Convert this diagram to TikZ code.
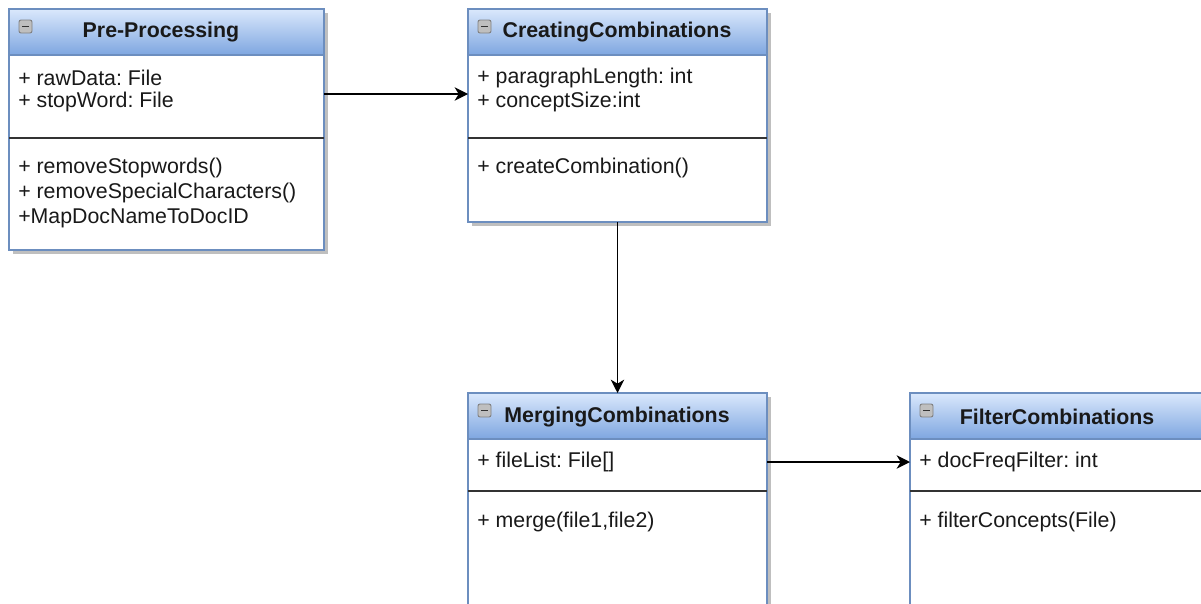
\documentclass[tikz,border=0pt]{standalone}
\usepackage{fontspec}
\setmainfont{Liberation Sans}
\usetikzlibrary{shadows,arrows.meta}
\frenchspacing
\definecolor{hdrtop}{HTML}{DAE8FC}
\definecolor{hdrbot}{HTML}{7EA6E0}
\definecolor{boxline}{HTML}{6C8EBF}
\definecolor{divline}{HTML}{333333}
\tikzset{
  umlbox/.style={draw=boxline, line width=1.1pt, fill=white, anchor=north west,
    inner sep=0pt, outer sep=0pt,
    drop shadow={shadow xshift=3pt, shadow yshift=-3pt, fill=black!25, opacity=1}},
  hdr/.style={top color=hdrtop, bottom color=hdrbot, draw=boxline, line width=1.1pt},
  divider/.style={draw=divline, line width=1.4pt},
  txt/.style={anchor=west, inner sep=0pt, font=\fontsize{16pt}{18pt}\selectfont\frenchspacing, text=black!90},
  ttl/.style={inner sep=0pt, font=\fontsize{16pt}{18pt}\selectfont\bfseries, text=black!90},
  icon/.style={draw=black!50, fill=black!25, line width=0.7pt, rounded corners=1.5pt},
  minus/.style={draw=black!80, line width=1.1pt},
  arr/.style={draw=black, line width=1.3pt, -{Stealth[length=10pt, width=10pt, inset=3pt]}}
}
\begin{document}
\begin{tikzpicture}[x=0.75pt, y=-0.75pt]
\useasboundingbox (0,0) rectangle (1201,603);
\clip (0,0) rectangle (1201,603);
\fill[white] (0,0) rectangle (1201,603);

% ---- Pre-Processing
\node[umlbox, minimum width=236.25pt, minimum height=180.75pt] (pre) at (9,9) {};
\shade[hdr] (pre.north west) rectangle ([yshift=-34.5pt]pre.north east);
\draw[divider] ([yshift=-96.75pt]pre.north west) -- ([yshift=-96.75pt]pre.north east);
\draw[icon] (19,20) rectangle (32,33);
\draw[minus] (22,26.5) -- (29,26.5);
\node[ttl] (pre-t) at (161,32) {Pre-Processing};
\node[txt] (pre-a1) at (18,78) {+ rawData: File};
\node[txt] (pre-a2) at (18,102) {+ stopWord: File};
\node[txt] (pre-m1) at (18,168) {+ removeStopwords()};
\node[txt] (pre-m2) at (18,193) {+ removeSpecialCharacters()};
\node[txt] (pre-m3) at (18,218) {+MapDocNameToDocID};

% ---- CreatingCombinations
\node[umlbox, minimum width=224.25pt, minimum height=159.75pt] (cc) at (468,9) {};
\shade[hdr] (cc.north west) rectangle ([yshift=-34.5pt]cc.north east);
\draw[divider] ([yshift=-96.75pt]cc.north west) -- ([yshift=-96.75pt]cc.north east);
\draw[icon] (478,20) rectangle (491,33);
\draw[minus] (481,26.5) -- (488,26.5);
\node[ttl] (cc-t) at (617,32) {CreatingCombinations};
\node[txt] (cc-a1) at (477,78) {+ paragraphLength: int};
\node[txt] (cc-a2) at (477,102) {+ conceptSize:int};
\node[txt] (cc-m1) at (477,168) {+ createCombination()};

% ---- MergingCombinations
\node[umlbox, minimum width=224.25pt, minimum height=195pt] (mc) at (468,393) {};
\shade[hdr] (mc.north west) rectangle ([yshift=-34.5pt]mc.north east);
\draw[divider] ([yshift=-73.5pt]mc.north west) -- ([yshift=-73.5pt]mc.north east);
\draw[icon] (478,404) rectangle (491,417);
\draw[minus] (481,410.5) -- (488,410.5);
\node[ttl] (mc-t) at (617,417) {MergingCombinations};
\node[txt] (mc-a1) at (477,462) {+ fileList: File[]};
\node[txt] (mc-m1) at (477,522) {+ merge(file1,file2)};

% ---- FilterCombinations
\node[umlbox, minimum width=224.25pt, minimum height=195pt] (fc) at (910,393) {};
\shade[hdr] (fc.north west) rectangle ([yshift=-34.5pt]fc.north east);
\draw[divider] ([yshift=-73.5pt]fc.north west) -- ([yshift=-73.5pt]fc.north east);
\draw[icon] (920,404) rectangle (933,417);
\draw[minus] (923,410.5) -- (930,410.5);
\node[ttl] (fc-t) at (1057,417) {FilterCombinations};
\node[txt] (fc-a1) at (919,462) {+ docFreqFilter: int};
\node[txt] (fc-m1) at (919,522) {+ filterConcepts(File)};

% ---- connectors
\draw[arr] ([yshift=-63.75pt]pre.north east) -- ([yshift=-63.75pt]cc.north west);
\draw[arr] (cc.south) -- (mc.north);
\draw[arr] ([yshift=-51.75pt]mc.north east) -- ([yshift=-51.75pt]fc.north west);
\end{tikzpicture}
\end{document}
